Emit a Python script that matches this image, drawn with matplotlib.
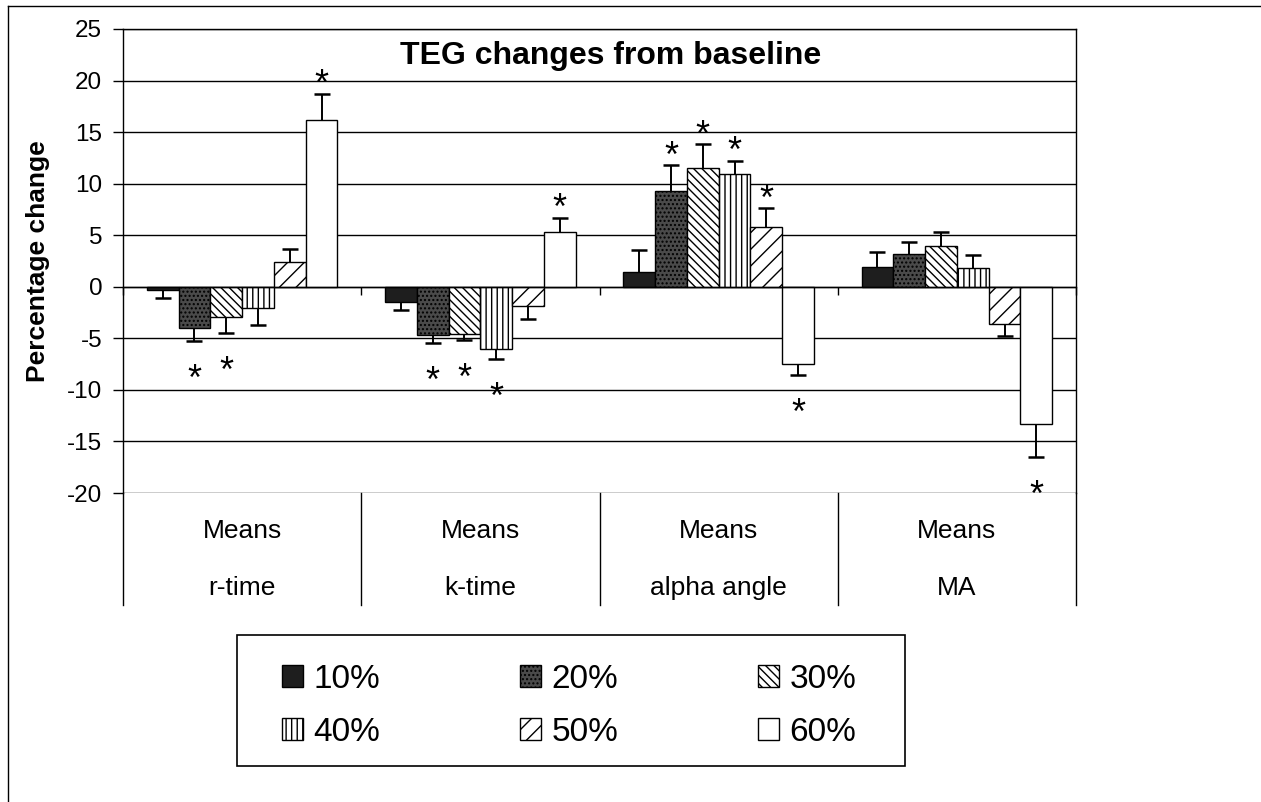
import numpy as np
import matplotlib.pyplot as plt
from matplotlib.lines import Line2D
from matplotlib.patches import Rectangle
from matplotlib.transforms import blended_transform_factory

plt.rcParams['font.family'] = ['Liberation Sans', 'DejaVu Sans']
plt.rcParams['hatch.linewidth'] = 1.0
plt.rcParams['axes.unicode_minus'] = False

# TEG parameters, percentage change from baseline
categories = ['r-time', 'k-time', 'alpha angle', 'MA']
series = ['10%', '20%', '30%', '40%', '50%', '60%']
means = [
    [-0.3, -1.5, 1.4, 1.9],
    [-4.0, -4.7, 9.3, 3.2],
    [-2.9, -4.6, 11.5, 4.0],
    [-2.1, -6.0, 10.9, 1.8],
    [2.4, -1.9, 5.8, -3.6],
    [16.2, 5.3, -7.5, -13.3],
]
errors = [
    [0.8, 0.8, 2.2, 1.5],
    [1.3, 0.8, 2.5, 1.1],
    [1.6, 0.6, 2.3, 1.3],
    [1.6, 1.0, 1.3, 1.3],
    [1.3, 1.2, 1.8, 1.2],
    [2.5, 1.4, 1.1, 3.2],
]
# significant changes marked with an asterisk
significant = [
    [0, 0, 0, 0],
    [1, 1, 1, 0],
    [1, 1, 1, 0],
    [0, 1, 1, 0],
    [0, 0, 1, 0],
    [1, 1, 1, 1],
]

faces = ['#1e1e1e', '#4a4a4a', 'white', 'white', 'white', 'white']
hatches = [None, '....', '\\\\\\\\', '|||', '//', None]

fig = plt.figure(figsize=(12.61, 8.02), dpi=100)
ax = fig.add_axes([123 / 1261, 1 - 493 / 802, 953 / 1261, 464 / 802])

n = len(series)
w = 1 / 7.5
x = np.arange(len(categories))

handles = []
for i in range(n):
    vals = np.array(means[i])
    errs = np.array(errors[i])
    xs = x + (i - (n - 1) / 2) * w
    bars = ax.bar(xs, vals, width=w, color=faces[i], edgecolor='black', linewidth=1,
                  hatch=hatches[i], label=series[i], zorder=3)
    handles.append(bars)
    ends = vals + np.sign(vals) * errs
    ax.vlines(xs, vals, ends, color='black', linewidth=1.4, zorder=4)
    ax.plot(xs, ends, ls='none', marker='_', markersize=11, markeredgewidth=1.8,
            color='black', zorder=4)
    for xx, v, e, s in zip(xs, vals, ends, significant[i]):
        if s:
            off = -1 if v > 0 else -35
            ax.annotate('*', (xx, e), xytext=(0, off), textcoords='offset points',
                        ha='center', va='baseline', fontsize=26)

ax.set_ylim(-20, 25)
ax.set_yticks(np.arange(-20, 26, 5))
ax.set_xlim(-0.5, len(categories) - 0.5)
ax.set_xticks(np.arange(-0.5, len(categories), 1))
ax.set_xticklabels([])
ax.spines['bottom'].set_position(('data', 0))
ax.spines['bottom'].set_zorder(5)
ax.tick_params(axis='x', direction='out', length=6, width=1)
ax.tick_params(axis='y', direction='out', length=7, width=1, labelsize=17.5, pad=8)
for sp in ax.spines.values():
    sp.set_linewidth(1)
ax.yaxis.grid(True, color='black', linewidth=1)
ax.set_axisbelow(True)

ax.set_ylabel('Percentage change', fontsize=19, fontweight='bold')
ax.yaxis.set_label_coords(-0.0766, 0.5)
ax.text(0.512, 0.942, 'TEG changes from baseline', transform=ax.transAxes,
        ha='center', va='center', fontsize=23, fontweight='bold')

# category label box under the plot
trans = blended_transform_factory(ax.transData, ax.transAxes)
for b in np.arange(-0.5, len(categories), 1):
    ax.plot([b, b], [0, -0.241], color='black', linewidth=1, transform=trans,
            clip_on=False)
for xi, name in zip(x, categories):
    ax.text(xi, -0.082, 'Means', transform=trans, ha='center', va='center', fontsize=19)
    ax.text(xi, -0.205, name, transform=trans, ha='center', va='center', fontsize=19)

# legend filled row by row: 10 20 30 / 40 50 60
order = [0, 3, 1, 4, 2, 5]
ax.legend([handles[k] for k in order], [series[k] for k in order], ncol=3,
          loc='center', bbox_to_anchor=(569 / 1261, 1 - 706 / 802),
          bbox_transform=fig.transFigure, fontsize=24, frameon=False,
          handlelength=0.64, handleheight=0.64, handletextpad=0.3,
          columnspacing=4.2, labelspacing=0.66, borderpad=0)
fig.add_artist(Rectangle((237 / 1261, 1 - 766 / 802), 668 / 1261, 131 / 802,
                         transform=fig.transFigure, fill=False,
                         edgecolor='black', linewidth=1.2))

# page frame
fig.add_artist(Line2D([8 / 1261, 1], [1 - 6 / 802, 1 - 6 / 802], color='black', linewidth=1))
fig.add_artist(Line2D([8 / 1261, 8 / 1261], [0, 1 - 6 / 802], color='black', linewidth=1))

fig.savefig('out.png', dpi=100)
